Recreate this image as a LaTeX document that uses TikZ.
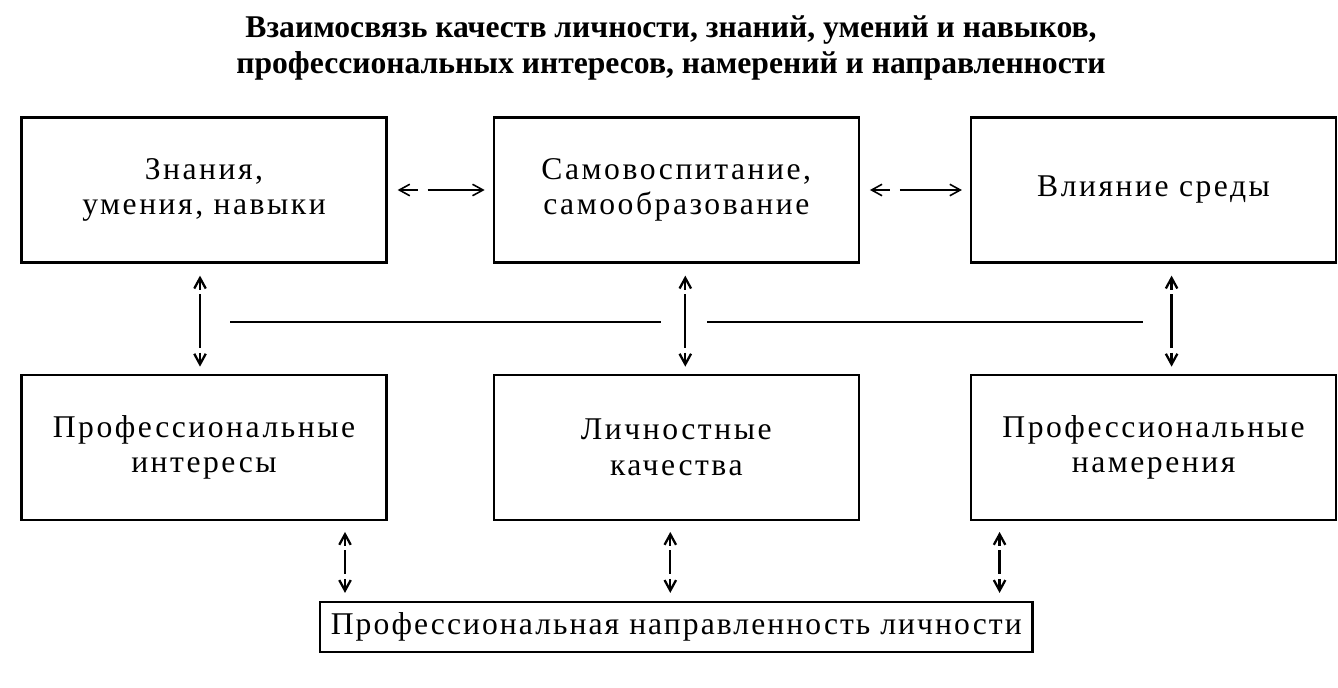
\documentclass[tikz,border=0pt]{standalone}
\usepackage{fontspec}
\setmainfont{Liberation Serif}
\newfontfamily\boxfont[LetterSpace=8]{Liberation Serif}
\usetikzlibrary{arrows.meta,positioning,calc}
% double arrow with a small gap behind each tip
\newcommand{\dblgap}[3][]{%
 \draw[->,#1] ($(#2)!2.8mm!(#3)$) -- (#2);
 \draw[->,#1] ($(#3)!2.8mm!(#2)$) -- (#3);
 \draw[#1] ($(#2)!3.7mm!(#3)$) -- ($(#3)!3.7mm!(#2)$);}

\begin{document}
\begin{tikzpicture}[x=0.2mm,y=-0.2mm,>={Straight Barb[length=2.1mm,width=2.3mm]},
 node distance=22mm and 21mm,
 box/.style={draw,line width=1.3pt,minimum width=73mm,minimum height=29mm,align=center,inner sep=0pt,font=\boxfont\fontsize{18}{20}\selectfont},
 vline/.style={line width=1.3pt},
 hline/.style={line width=0.9pt}]
\useasboundingbox (0,0) rectangle (1338,688);
\node[align=center,font=\bfseries\fontsize{18}{20}\selectfont] (title) at (671,48)
 {Взаимосвязь качеств личности, знаний, умений и навыков,\\профессиональных интересов, намерений и направленности};
% upper row
\node[box] (know) at (204,190) {Знания,\\умения, навыки};
\node[box,right=of know] (self) {Самовоспитание,\\самообразование};
\node[box,right=22mm of self] (env) {Влияние среды};
% lower row
\node[box,below=of know] (int) {Профессиональные\\интересы};
\node[box,below=of self] (pers) {Личностные\\качества};
\node[box,below=of env] (intent) {Профессиональные\\намерения};
\node[draw,line width=1.3pt,minimum width=142.5mm,minimum height=10mm,inner sep=0pt,
 font=\boxfont\addfontfeature{LetterSpace=6.5}\fontsize{18}{20}\selectfont,below=16mm of pers] (dir) {Профессиональная направленность личности};
% side links
\foreach \a/\b in {know/self,self/env}{
 \coordinate (p) at ([xshift=2mm]\a.east);
 \coordinate (q) at ([xshift=-1.6mm]\b.west);
 \draw[->,hline] ($(p)!4mm!(q)$) -- (p);
 \draw[->,hline] ($(p)!6mm!(q)$) -- (q);
}
% links between the rows
\foreach \a/\b/\s in {know/int/-0.8mm,self/pers/1.8mm,env/intent/3.6mm}{
 \coordinate (p) at ([xshift=\s,yshift=-2.4mm]\a.south);
 \coordinate (q) at ([xshift=\s,yshift=1.4mm]\b.north);
 \dblgap[vline]{p}{q}
}
\coordinate (l1) at (230,322);
\coordinate (l2) at (661,322);
\coordinate (l3) at (707,322);
\coordinate (l4) at (1143,322);
\draw[vline] (l1) -- (l2) (l3) -- (l4);
% links to the bottom box
\foreach \a/\s in {int/28.2mm,pers/-1.2mm,intent/-30.8mm}{
 \coordinate (p) at ([xshift=\s,yshift=-2.2mm]\a.south);
 \coordinate (q) at ([yshift=1.6mm]p |- dir.north);
 \dblgap[vline]{p}{q}
}
\end{tikzpicture}
\end{document}
